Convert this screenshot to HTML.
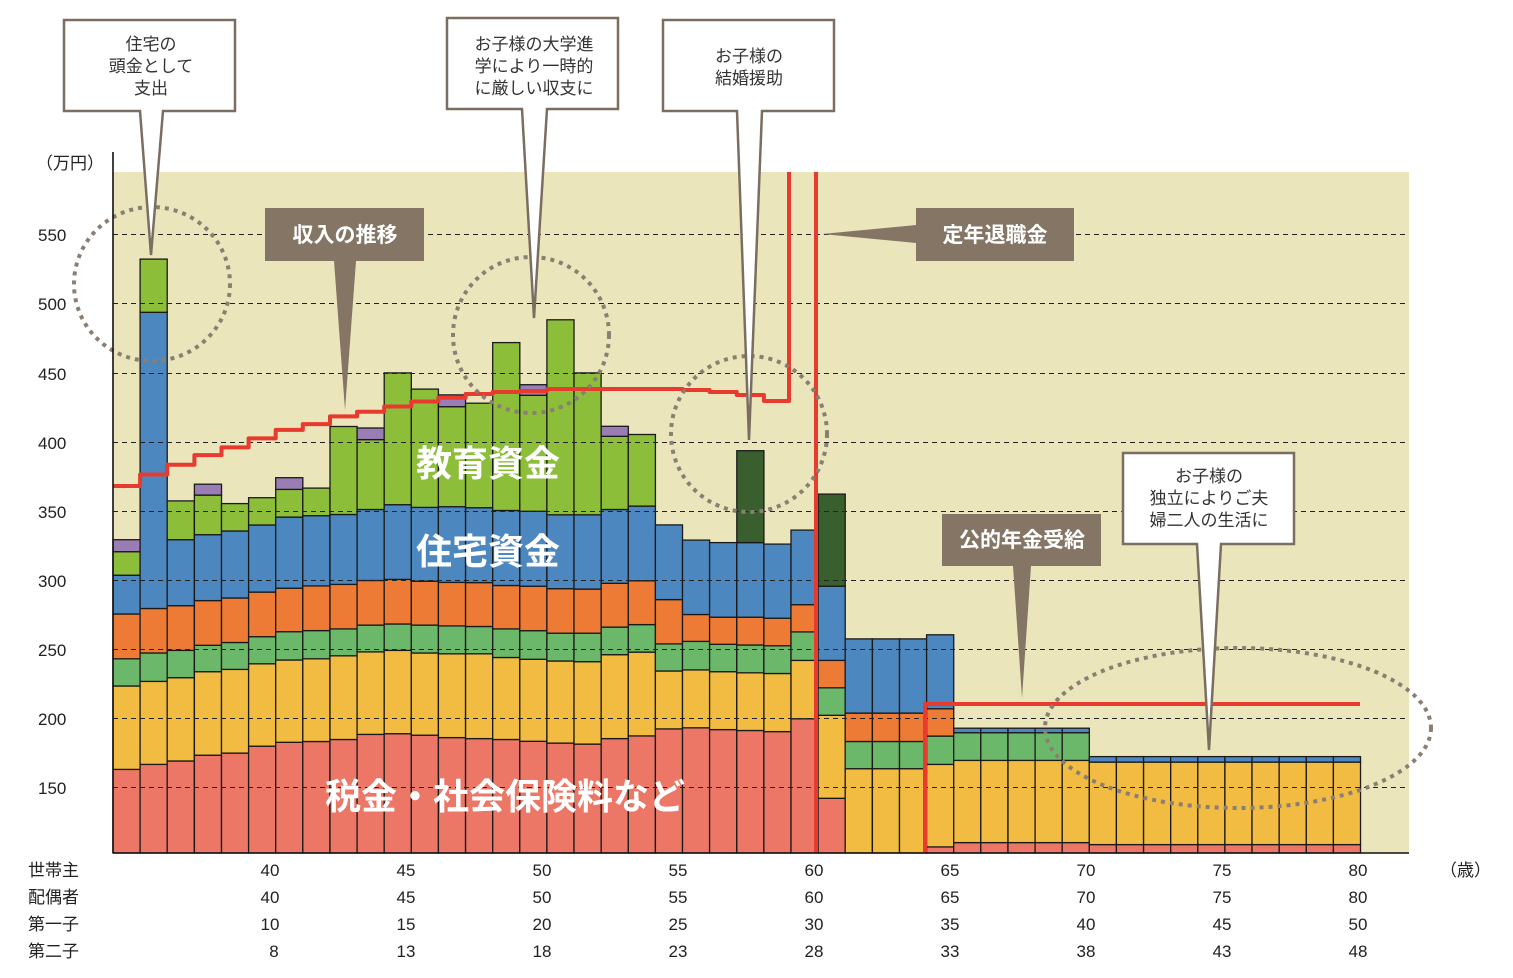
<!DOCTYPE html>
<html><head><meta charset="utf-8"><style>
html,body{margin:0;padding:0;background:#fff;}
svg{display:block;font-family:"Liberation Sans","Noto Sans CJK JP",sans-serif;}
</style></head><body>
<svg width="1513" height="978" viewBox="0 0 1513 978" xmlns="http://www.w3.org/2000/svg">
<defs>
<g id="b62" stroke="#1a1a1a" stroke-width="1.3">
<rect x="0" y="768.7" width="27.12" height="84.3" fill="#f2bc42"/>
<rect x="0" y="741.5" width="27.12" height="27.2" fill="#6cb86a"/>
<rect x="0" y="713.1" width="27.12" height="28.4" fill="#ee7b35"/>
<rect x="0" y="638.9" width="27.12" height="74.2" fill="#4d87c0"/>
</g>
<g id="b66" stroke="#1a1a1a" stroke-width="1.3">
<rect x="0" y="842.6" width="27.12" height="10.4" fill="#ec7766"/>
<rect x="0" y="760.4" width="27.12" height="82.2" fill="#f2bc42"/>
<rect x="0" y="732.7" width="27.12" height="27.7" fill="#6cb86a"/>
<rect x="0" y="728.2" width="27.12" height="4.5" fill="#4d87c0"/>
</g>
<g id="b71" stroke="#1a1a1a" stroke-width="1.3">
<rect x="0" y="844.6" width="27.12" height="8.4" fill="#ec7766"/>
<rect x="0" y="762.1" width="27.12" height="82.5" fill="#f2bc42"/>
<rect x="0" y="756.6" width="27.12" height="5.5" fill="#4d87c0"/>
</g>
</defs>
<rect x="113" y="172" width="1296" height="681" fill="#ebe5bb"/>

<g stroke="#1a1a1a" stroke-width="1.3">
<!-- bar0 -->
<g transform="translate(113,0)">
<rect y="769.4" width="27.12" height="83.6" fill="#ec7766"/><rect y="686" width="27.12" height="83.4" fill="#f2bc42"/><rect y="658.8" width="27.12" height="27.2" fill="#6cb86a"/><rect y="614" width="27.12" height="44.8" fill="#ee7b35"/><rect y="575.2" width="27.12" height="38.8" fill="#4d87c0"/><rect y="551.7" width="27.12" height="23.5" fill="#8cbe3a"/><rect y="539.7" width="27.12" height="12" fill="#9a7db5"/></g>
<g transform="translate(140.1,0)">
<rect y="764.4" width="27.12" height="88.6" fill="#ec7766"/><rect y="681.4" width="27.12" height="83" fill="#f2bc42"/><rect y="653" width="27.12" height="28.4" fill="#6cb86a"/><rect y="608.5" width="27.12" height="44.5" fill="#ee7b35"/><rect y="312.3" width="27.12" height="296.2" fill="#4d87c0"/><rect y="259.1" width="27.12" height="53.2" fill="#8cbe3a"/></g>
<g transform="translate(167.2,0)">
<rect y="761" width="27.12" height="92" fill="#ec7766"/><rect y="677.7" width="27.12" height="83.3" fill="#f2bc42"/><rect y="650.4" width="27.12" height="27.3" fill="#6cb86a"/><rect y="605.7" width="27.12" height="44.7" fill="#ee7b35"/><rect y="539.7" width="27.12" height="66" fill="#4d87c0"/><rect y="500.9" width="27.12" height="38.8" fill="#8cbe3a"/></g>
<g transform="translate(194.4,0)">
<rect y="755.2" width="27.12" height="97.8" fill="#ec7766"/><rect y="671.7" width="27.12" height="83.5" fill="#f2bc42"/><rect y="645.3" width="27.12" height="26.4" fill="#6cb86a"/><rect y="600.6" width="27.12" height="44.7" fill="#ee7b35"/><rect y="534.7" width="27.12" height="65.9" fill="#4d87c0"/><rect y="495.1" width="27.12" height="39.6" fill="#8cbe3a"/><rect y="484.2" width="27.12" height="10.9" fill="#9a7db5"/></g>
<g transform="translate(221.5,0)">
<rect y="753.1" width="27.12" height="99.9" fill="#ec7766"/><rect y="669.4" width="27.12" height="83.7" fill="#f2bc42"/><rect y="642.5" width="27.12" height="26.9" fill="#6cb86a"/><rect y="598" width="27.12" height="44.5" fill="#ee7b35"/><rect y="531" width="27.12" height="67" fill="#4d87c0"/><rect y="503.6" width="27.12" height="27.4" fill="#8cbe3a"/></g>
<g transform="translate(248.6,0)">
<rect y="746.2" width="27.12" height="106.8" fill="#ec7766"/><rect y="663.8" width="27.12" height="82.4" fill="#f2bc42"/><rect y="636.7" width="27.12" height="27.1" fill="#6cb86a"/><rect y="592.1" width="27.12" height="44.6" fill="#ee7b35"/><rect y="525" width="27.12" height="67.1" fill="#4d87c0"/><rect y="497.7" width="27.12" height="27.3" fill="#8cbe3a"/></g>
<g transform="translate(275.7,0)">
<rect y="742.3" width="27.12" height="110.7" fill="#ec7766"/><rect y="660" width="27.12" height="82.3" fill="#f2bc42"/><rect y="631.7" width="27.12" height="28.3" fill="#6cb86a"/><rect y="588.2" width="27.12" height="43.5" fill="#ee7b35"/><rect y="517.1" width="27.12" height="71.1" fill="#4d87c0"/><rect y="489.4" width="27.12" height="27.7" fill="#8cbe3a"/><rect y="477.7" width="27.12" height="11.7" fill="#9a7db5"/></g>
<g transform="translate(302.8,0)">
<rect y="741.5" width="27.12" height="111.5" fill="#ec7766"/><rect y="658.8" width="27.12" height="82.7" fill="#f2bc42"/><rect y="630.6" width="27.12" height="28.2" fill="#6cb86a"/><rect y="585.9" width="27.12" height="44.7" fill="#ee7b35"/><rect y="515.7" width="27.12" height="70.2" fill="#4d87c0"/><rect y="488.1" width="27.12" height="27.6" fill="#8cbe3a"/></g>
<g transform="translate(330,0)">
<rect y="739.5" width="27.12" height="113.5" fill="#ec7766"/><rect y="655.8" width="27.12" height="83.7" fill="#f2bc42"/><rect y="628.9" width="27.12" height="26.9" fill="#6cb86a"/><rect y="584.4" width="27.12" height="44.5" fill="#ee7b35"/><rect y="514.5" width="27.12" height="69.9" fill="#4d87c0"/><rect y="426.5" width="27.12" height="88" fill="#8cbe3a"/></g>
<g transform="translate(357.1,0)">
<rect y="734.4" width="27.12" height="118.6" fill="#ec7766"/><rect y="651.9" width="27.12" height="82.5" fill="#f2bc42"/><rect y="625.1" width="27.12" height="26.8" fill="#6cb86a"/><rect y="580.5" width="27.12" height="44.6" fill="#ee7b35"/><rect y="509.5" width="27.12" height="71" fill="#4d87c0"/><rect y="439.6" width="27.12" height="69.9" fill="#8cbe3a"/><rect y="428" width="27.12" height="11.6" fill="#9a7db5"/></g>
<g transform="translate(384.2,0)">
<rect y="733.7" width="27.12" height="119.3" fill="#ec7766"/><rect y="650.4" width="27.12" height="83.3" fill="#f2bc42"/><rect y="624" width="27.12" height="26.4" fill="#6cb86a"/><rect y="579.4" width="27.12" height="44.6" fill="#ee7b35"/><rect y="504.7" width="27.12" height="74.7" fill="#4d87c0"/><rect y="372.9" width="27.12" height="131.8" fill="#8cbe3a"/></g>
<g transform="translate(411.3,0)">
<rect y="735.2" width="27.12" height="117.8" fill="#ec7766"/><rect y="653" width="27.12" height="82.2" fill="#f2bc42"/><rect y="625.1" width="27.12" height="27.9" fill="#6cb86a"/><rect y="581.2" width="27.12" height="43.9" fill="#ee7b35"/><rect y="507.4" width="27.12" height="73.8" fill="#4d87c0"/><rect y="389.1" width="27.12" height="118.3" fill="#8cbe3a"/></g>
<g transform="translate(438.4,0)">
<rect y="737.6" width="27.12" height="115.4" fill="#ec7766"/><rect y="653.8" width="27.12" height="83.8" fill="#f2bc42"/><rect y="625.9" width="27.12" height="27.9" fill="#6cb86a"/><rect y="582.4" width="27.12" height="43.5" fill="#ee7b35"/><rect y="506.7" width="27.12" height="75.7" fill="#4d87c0"/><rect y="406.7" width="27.12" height="100" fill="#8cbe3a"/><rect y="394.9" width="27.12" height="11.8" fill="#9a7db5"/></g>
<g transform="translate(465.6,0)">
<rect y="738.6" width="27.12" height="114.4" fill="#ec7766"/><rect y="653.8" width="27.12" height="84.8" fill="#f2bc42"/><rect y="626.5" width="27.12" height="27.3" fill="#6cb86a"/><rect y="582.6" width="27.12" height="43.9" fill="#ee7b35"/><rect y="507.7" width="27.12" height="74.9" fill="#4d87c0"/><rect y="403.2" width="27.12" height="104.5" fill="#8cbe3a"/></g>
<g transform="translate(492.7,0)">
<rect y="739.5" width="27.12" height="113.5" fill="#ec7766"/><rect y="657.5" width="27.12" height="82" fill="#f2bc42"/><rect y="628.9" width="27.12" height="28.6" fill="#6cb86a"/><rect y="585.5" width="27.12" height="43.4" fill="#ee7b35"/><rect y="510.5" width="27.12" height="75" fill="#4d87c0"/><rect y="342.6" width="27.12" height="167.9" fill="#8cbe3a"/></g>
<g transform="translate(519.8,0)">
<rect y="741.3" width="27.12" height="111.7" fill="#ec7766"/><rect y="659.3" width="27.12" height="82" fill="#f2bc42"/><rect y="630.7" width="27.12" height="28.6" fill="#6cb86a"/><rect y="586.2" width="27.12" height="44.5" fill="#ee7b35"/><rect y="511.3" width="27.12" height="74.9" fill="#4d87c0"/><rect y="395.3" width="27.12" height="116" fill="#8cbe3a"/><rect y="384.7" width="27.12" height="10.6" fill="#9a7db5"/></g>
<g transform="translate(546.9,0)">
<rect y="743.1" width="27.12" height="109.9" fill="#ec7766"/><rect y="661" width="27.12" height="82.1" fill="#f2bc42"/><rect y="633.2" width="27.12" height="27.8" fill="#6cb86a"/><rect y="588.7" width="27.12" height="44.5" fill="#ee7b35"/><rect y="514.8" width="27.12" height="73.9" fill="#4d87c0"/><rect y="319.8" width="27.12" height="195" fill="#8cbe3a"/></g>
<g transform="translate(574,0)">
<rect y="744.1" width="27.12" height="108.9" fill="#ec7766"/><rect y="661.7" width="27.12" height="82.4" fill="#f2bc42"/><rect y="633.2" width="27.12" height="28.5" fill="#6cb86a"/><rect y="589.1" width="27.12" height="44.1" fill="#ee7b35"/><rect y="514.8" width="27.12" height="74.3" fill="#4d87c0"/><rect y="372.9" width="27.12" height="141.9" fill="#8cbe3a"/></g>
<g transform="translate(601.2,0)">
<rect y="738.6" width="27.12" height="114.4" fill="#ec7766"/><rect y="654.7" width="27.12" height="83.9" fill="#f2bc42"/><rect y="627.1" width="27.12" height="27.6" fill="#6cb86a"/><rect y="583.3" width="27.12" height="43.8" fill="#ee7b35"/><rect y="509.5" width="27.12" height="73.8" fill="#4d87c0"/><rect y="436.3" width="27.12" height="73.2" fill="#8cbe3a"/><rect y="426.3" width="27.12" height="10" fill="#9a7db5"/></g>
<g transform="translate(628.3,0)">
<rect y="735.9" width="27.12" height="117.1" fill="#ec7766"/><rect y="652.1" width="27.12" height="83.8" fill="#f2bc42"/><rect y="624.6" width="27.12" height="27.5" fill="#6cb86a"/><rect y="580.8" width="27.12" height="43.8" fill="#ee7b35"/><rect y="506.1" width="27.12" height="74.7" fill="#4d87c0"/><rect y="434.5" width="27.12" height="71.6" fill="#8cbe3a"/></g>
<g transform="translate(655.4,0)">
<rect y="728.9" width="27.12" height="124.1" fill="#ec7766"/><rect y="671" width="27.12" height="57.9" fill="#f2bc42"/><rect y="643.9" width="27.12" height="27.1" fill="#6cb86a"/><rect y="599.6" width="27.12" height="44.3" fill="#ee7b35"/><rect y="524.9" width="27.12" height="74.7" fill="#4d87c0"/></g>
<g transform="translate(682.5,0)">
<rect y="727.8" width="27.12" height="125.2" fill="#ec7766"/><rect y="669.9" width="27.12" height="57.9" fill="#f2bc42"/><rect y="641.4" width="27.12" height="28.5" fill="#6cb86a"/><rect y="614.5" width="27.12" height="26.9" fill="#ee7b35"/><rect y="540.1" width="27.12" height="74.4" fill="#4d87c0"/></g>
<g transform="translate(709.6,0)">
<rect y="729.6" width="27.12" height="123.4" fill="#ec7766"/><rect y="671.7" width="27.12" height="57.9" fill="#f2bc42"/><rect y="644.3" width="27.12" height="27.4" fill="#6cb86a"/><rect y="617.2" width="27.12" height="27.1" fill="#ee7b35"/><rect y="542.6" width="27.12" height="74.6" fill="#4d87c0"/></g>
<g transform="translate(736.8,0)">
<rect y="730.5" width="27.12" height="122.5" fill="#ec7766"/><rect y="672.8" width="27.12" height="57.7" fill="#f2bc42"/><rect y="645" width="27.12" height="27.8" fill="#6cb86a"/><rect y="617.2" width="27.12" height="27.8" fill="#ee7b35"/><rect y="542.6" width="27.12" height="74.6" fill="#4d87c0"/><rect y="450.7" width="27.12" height="91.9" fill="#3a5f2f"/></g>
<g transform="translate(763.9,0)">
<rect y="731.6" width="27.12" height="121.4" fill="#ec7766"/><rect y="673.5" width="27.12" height="58.1" fill="#f2bc42"/><rect y="645.8" width="27.12" height="27.7" fill="#6cb86a"/><rect y="618.2" width="27.12" height="27.6" fill="#ee7b35"/><rect y="544.1" width="27.12" height="74.1" fill="#4d87c0"/></g>
<g transform="translate(791,0)">
<rect y="718.8" width="27.12" height="134.2" fill="#ec7766"/><rect y="660.4" width="27.12" height="58.4" fill="#f2bc42"/><rect y="631.9" width="27.12" height="28.5" fill="#6cb86a"/><rect y="604.7" width="27.12" height="27.2" fill="#ee7b35"/><rect y="530.1" width="27.12" height="74.6" fill="#4d87c0"/></g>
<g transform="translate(818.1,0)">
<rect y="798.3" width="27.12" height="54.7" fill="#ec7766"/><rect y="715.3" width="27.12" height="83" fill="#f2bc42"/><rect y="687.8" width="27.12" height="27.5" fill="#6cb86a"/><rect y="660.4" width="27.12" height="27.4" fill="#ee7b35"/><rect y="586.2" width="27.12" height="74.2" fill="#4d87c0"/><rect y="494.1" width="27.12" height="92.1" fill="#3a5f2f"/></g>
</g>
<use href="#b62" x="845.2"/><use href="#b62" x="872.4"/><use href="#b62" x="899.5"/>
<g stroke="#1a1a1a" stroke-width="1.3" transform="translate(926.6,0)">
<rect y="846.9" width="27.12" height="6.1" fill="#ec7766"/><rect y="764.4" width="27.12" height="82.5" fill="#f2bc42"/><rect y="736.1" width="27.12" height="28.3" fill="#6cb86a"/><rect y="708.8" width="27.12" height="27.3" fill="#ee7b35"/><rect y="634.8" width="27.12" height="74" fill="#4d87c0"/></g>
<use href="#b66" x="953.7"/><use href="#b66" x="980.8"/><use href="#b66" x="1008"/><use href="#b66" x="1035.1"/><use href="#b66" x="1062.2"/>
<use href="#b71" x="1089.3"/><use href="#b71" x="1116.4"/><use href="#b71" x="1143.6"/><use href="#b71" x="1170.7"/><use href="#b71" x="1197.8"/><use href="#b71" x="1224.9"/><use href="#b71" x="1252"/><use href="#b71" x="1279.2"/><use href="#b71" x="1306.3"/><use href="#b71" x="1333.4"/>

<!-- gridlines -->
<g stroke="#222" stroke-width="1" stroke-dasharray="5 4">
<line x1="113" y1="234.5" x2="1409" y2="234.5"/><line x1="113" y1="303.5" x2="1409" y2="303.5"/><line x1="113" y1="373.5" x2="1409" y2="373.5"/><line x1="113" y1="442.5" x2="1409" y2="442.5"/><line x1="113" y1="511.5" x2="1409" y2="511.5"/><line x1="113" y1="580.5" x2="1409" y2="580.5"/><line x1="113" y1="649.5" x2="1409" y2="649.5"/><line x1="113" y1="718.5" x2="1409" y2="718.5"/><line x1="113" y1="787.5" x2="1409" y2="787.5"/>
</g>

<!-- big labels -->
<g fill="#fff" font-weight="bold" font-size="36">
<text x="488" y="476" text-anchor="middle">教育資金</text>
<text x="488" y="564" text-anchor="middle">住宅資金</text>
<text x="325" y="809">税金・社会保険料など</text>
</g>

<!-- income line -->
<g fill="none" stroke="#e63b2e" stroke-width="4" stroke-linejoin="round">
<polyline points="113,486 140.1,486 140.1,474.5 167.2,474.5 167.2,464.8 194.4,464.8 194.4,455.1 221.5,455.1 221.5,447.4 248.6,447.4 248.6,438.4 275.7,438.4 275.7,429.9 302.8,429.9 302.8,424.1 330,424.1 330,416.4 357.1,416.4 357.1,411.7 384.2,411.7 384.2,406.5 411.3,406.5 411.3,401.5 438.4,401.5 438.4,397.7 465.6,397.7 465.6,394 492.7,394 492.7,392 519.8,392 519.8,391 546.9,391 546.9,389 682.5,389 682.5,390 709.6,390 709.6,392 736.8,392 736.8,395 763.9,395 763.9,401 789,401 789,172"/>
<line x1="816" y1="172" x2="816" y2="853"/>
<polyline points="925,853 925,704 1360,704"/>
</g>

<!-- dotted circles -->
<g fill="none" stroke="#8a7f72" stroke-width="4" stroke-dasharray="4 5">
<ellipse cx="152" cy="284" rx="78" ry="77"/>
<ellipse cx="531" cy="335" rx="78" ry="78"/>
<ellipse cx="749" cy="434" rx="78" ry="78"/>
<ellipse cx="1238" cy="728" rx="193" ry="80"/>
</g>

<!-- callouts -->
<g fill="#fff" stroke="#7b6e61" stroke-width="2.5">
<path d="M64,20 H235 V111 H163 L151,255 L140,111 H64 Z"/>
<path d="M447,18 H618 V109 H547 L534,318 L522,109 H447 Z"/>
<path d="M663,20 H834 V111 H762 L749,440 L737,111 H663 Z"/>
<path d="M1123,453 H1294 V544 H1221 L1209,750 L1197,544 H1123 Z"/>
</g>
<g fill="#333" font-size="17" text-anchor="middle">
<text x="151" y="50">住宅の</text><text x="151" y="72">頭金として</text><text x="151" y="94">支出</text>
<text x="534" y="50">お子様の大学進</text><text x="534" y="72">学により一時的</text><text x="534" y="94">に厳しい収支に</text>
<text x="749" y="62">お子様の</text><text x="749" y="84">結婚援助</text>
<text x="1209" y="482">お子様の</text><text x="1209" y="504">独立によりご夫</text><text x="1209" y="526">婦二人の生活に</text>
</g>
<g fill="#847565">
<path d="M265,208 H424 V261 H356 L345,410 L334,261 H265 Z"/>
<path d="M916,208 H1074 V261 H916 V243 L822,234 L916,225 Z"/>
<path d="M942,514 H1101 V566 H1031 L1022,698 L1013,566 H942 Z"/>
</g>
<g fill="#fff" font-size="21" font-weight="bold" text-anchor="middle">
<text x="345" y="242">収入の推移</text>
<text x="995" y="242">定年退職金</text>
<text x="1022" y="547">公的年金受給</text>
</g>

<!-- axes -->
<g stroke="#111" stroke-width="1.6">
<line x1="113" y1="152" x2="113" y2="853"/>
<line x1="113" y1="853" x2="1409" y2="853"/>
</g>
<g fill="#222" font-size="17">
<text x="36" y="169">（万円）</text>
<text x="38" y="241">550</text><text x="38" y="310">500</text><text x="38" y="380">450</text><text x="38" y="449">400</text><text x="38" y="518">350</text><text x="38" y="587">300</text><text x="38" y="656">250</text><text x="38" y="725">200</text><text x="38" y="794">150</text>
<text x="28" y="876">世帯主</text><text x="28" y="903">配偶者</text><text x="28" y="930">第一子</text><text x="28" y="957">第二子</text>
<text x="1440" y="876">（歳）</text>
</g>
<g fill="#222" font-size="17" text-anchor="middle">
<text x="270" y="876">40</text><text x="406" y="876">45</text><text x="542" y="876">50</text><text x="678" y="876">55</text><text x="814" y="876">60</text><text x="950" y="876">65</text><text x="1086" y="876">70</text><text x="1222" y="876">75</text><text x="1358" y="876">80</text>
<text x="270" y="903">40</text><text x="406" y="903">45</text><text x="542" y="903">50</text><text x="678" y="903">55</text><text x="814" y="903">60</text><text x="950" y="903">65</text><text x="1086" y="903">70</text><text x="1222" y="903">75</text><text x="1358" y="903">80</text>
<text x="270" y="930">10</text><text x="406" y="930">15</text><text x="542" y="930">20</text><text x="678" y="930">25</text><text x="814" y="930">30</text><text x="950" y="930">35</text><text x="1086" y="930">40</text><text x="1222" y="930">45</text><text x="1358" y="930">50</text>
<text x="274" y="957">8</text><text x="406" y="957">13</text><text x="542" y="957">18</text><text x="678" y="957">23</text><text x="814" y="957">28</text><text x="950" y="957">33</text><text x="1086" y="957">38</text><text x="1222" y="957">43</text><text x="1358" y="957">48</text>
</g>
</svg>
</body></html>
